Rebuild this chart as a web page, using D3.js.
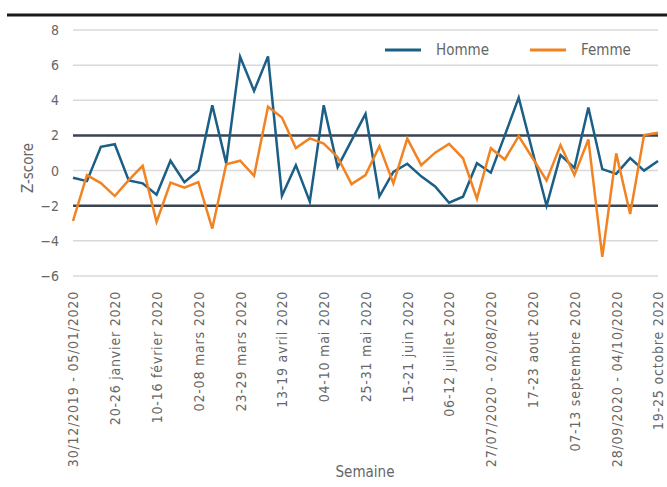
<!DOCTYPE html>
<html>
<head>
<meta charset="utf-8">
<script src="https://cdn.jsdelivr.net/npm/d3@7"></script>
<style>
  body { margin: 0; background: #fff; }
  svg text { font-family: "Liberation Sans Narrow", "DejaVu Sans Condensed", "Roboto", sans-serif; fill: #666; }
</style>
</head>
<body>
<div id="chart"></div>
<script>
var weeks = [
  "30/12/2019 - 05/01/2020", "06-12 janvier 2020", "13-19 janvier 2020", "20-26 janvier 2020",
  "27/01/2020 - 02/02/2020", "03-09 février 2020", "10-16 février 2020", "17-23 février 2020",
  "24/02/2020 - 01/03/2020", "02-08 mars 2020", "09-15 mars 2020", "16-22 mars 2020",
  "23-29 mars 2020", "30/03/2020 - 05/04/2020", "06-12 avril 2020", "13-19 avril 2020",
  "20-26 avril 2020", "27/04/2020 - 03/05/2020", "04-10 mai 2020", "11-17 mai 2020",
  "18-24 mai 2020", "25-31 mai 2020", "01-07 juin 2020", "08-14 juin 2020",
  "15-21 juin 2020", "22-28 juin 2020", "29/06/2020 - 05/07/2020", "06-12 juillet 2020",
  "13-19 juillet 2020", "20-26 juillet 2020", "27/07/2020 - 02/08/2020", "03-09 aout 2020",
  "10-16 aout 2020", "17-23 aout 2020", "24-30 aout 2020", "31/08/2020 - 06/09/2020",
  "07-13 septembre 2020", "14-20 septembre 2020", "21-27 septembre 2020", "28/09/2020 - 04/10/2020",
  "05-11 octobre 2020", "12-18 octobre 2020", "19-25 octobre 2020"
];

var homme = [-0.41, -0.6, 1.35, 1.5, -0.56, -0.73, -1.38, 0.56, -0.66, 0.0,
  3.72, 0.41, 6.47, 4.53, 6.5, -1.43, 0.31, -1.77, 3.72, 0.2,
  1.72, 3.23, -1.47, -0.08, 0.39, -0.33, -0.9, -1.83, -1.49, 0.42,
  -0.12, 2.0, 4.15, 1.06, -2.0, 0.88, 0.15, 3.59, 0.08, -0.19,
  0.71, 0.0, 0.55];

var femme = [-2.87, -0.26, -0.71, -1.45, -0.54, 0.27, -2.92, -0.69, -0.97, -0.66,
  -3.3, 0.36, 0.56, -0.3, 3.63, 3.02, 1.28, 1.83, 1.54, 0.76,
  -0.77, -0.26, 1.39, -0.73, 1.82, 0.31, 1.02, 1.52, 0.7, -1.6,
  1.27, 0.63, 1.96, 0.7, -0.56, 1.45, -0.26, 1.77, -4.91, 0.98,
  -2.47, 2.02, 2.15];

var yTicks = [-6, -4, -2, 0, 2, 4, 6, 8];
var limits = [-2, 2];

var series = [
  {name: "Homme", values: homme, color: "#1b5e86"},
  {name: "Femme", values: femme, color: "#f28322"}
];

var width = 667, height = 487;

var svg = d3.select("#chart").append("svg")
  .attr("width", width)
  .attr("height", height);

var x = d3.scalePoint()
  .domain(weeks)
  .range([73, 658]);

var y = d3.scaleLinear()
  .domain([-6, 8])
  .range([276, 30]);

// black bar on top
svg.append("line")
  .attr("x1", 7).attr("x2", width)
  .attr("y1", 15).attr("y2", 15)
  .attr("stroke", "#1a1a1a")
  .attr("stroke-width", 3);

// gridlines
svg.selectAll(".grid")
  .data(yTicks)
  .enter()
  .append("line")
  .attr("class", "grid")
  .attr("x1", 73).attr("x2", 658)
  .attr("y1", function(d){ return y(d); })
  .attr("y2", function(d){ return y(d); })
  .attr("stroke", "#d9d9d9")
  .attr("stroke-width", 1.5);

// y axis labels
var yAxis = d3.axisLeft(y).tickValues(yTicks).tickSize(0).tickPadding(14);
var gy = svg.append("g")
  .attr("transform", "translate(73,0)")
  .call(yAxis);
gy.select(".domain").remove();
gy.selectAll("text")
  .attr("font-size", "14px")
  .style("fill", "#666");

// x axis labels, every 3 weeks
var xAxis = d3.axisBottom(x)
  .tickValues(weeks.filter(function(d, i){ return i % 3 == 0; }))
  .tickSize(0);
var gx = svg.append("g")
  .attr("transform", "translate(0,276)")
  .call(xAxis);
gx.select(".domain").remove();
gx.selectAll("text")
  .attr("font-size", "14px")
  .style("fill", "#666")
  .style("letter-spacing", "0.8px")
  .style("text-anchor", "end")
  .attr("transform", "rotate(-90)")
  .attr("x", -15)
  .attr("y", 0)
  .attr("dy", "0.35em");

// limit lines at -2 and 2
svg.selectAll(".limit")
  .data(limits)
  .enter()
  .append("line")
  .attr("class", "limit")
  .attr("x1", 73).attr("x2", 658)
  .attr("y1", function(d){ return y(d); })
  .attr("y2", function(d){ return y(d); })
  .attr("stroke", "#3b4550")
  .attr("stroke-width", 2.5);

var line = d3.line()
  .x(function(d, i){ return x(weeks[i]); })
  .y(function(d){ return y(d); });

svg.selectAll(".serie")
  .data(series)
  .enter()
  .append("path")
  .attr("class", "serie")
  .attr("d", function(d){ return line(d.values); })
  .attr("fill", "none")
  .attr("stroke", function(d){ return d.color; })
  .attr("stroke-width", 2.5)
  .attr("stroke-linejoin", "miter");

// legend
var legend = svg.selectAll(".legend")
  .data(series)
  .enter()
  .append("g")
  .attr("class", "legend")
  .attr("transform", function(d, i){ return "translate(" + (385 + i * 145) + ",50)"; });

legend.append("line")
  .attr("x1", 0).attr("x2", 36)
  .attr("stroke", function(d){ return d.color; })
  .attr("stroke-width", 3);

legend.append("text")
  .text(function(d){ return d.name; })
  .attr("x", 51)
  .attr("dy", "0.35em")
  .attr("font-size", "15px");

// axis titles
svg.append("text")
  .text("Semaine")
  .attr("x", 365)
  .attr("y", 477)
  .attr("text-anchor", "middle")
  .attr("font-size", "15px");

svg.append("text")
  .text("Z-score")
  .attr("transform", "translate(33,168) rotate(-90)")
  .attr("text-anchor", "middle")
  .attr("font-size", "15px");
</script>
</body>
</html>
